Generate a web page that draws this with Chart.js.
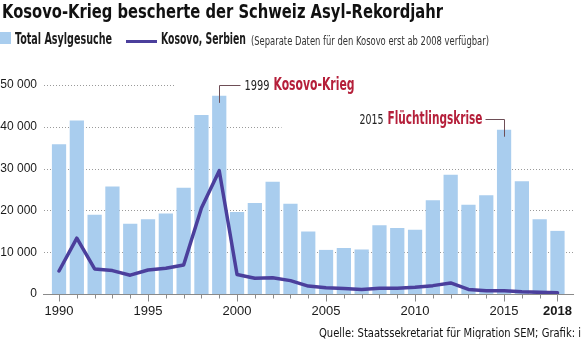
<!DOCTYPE html>
<html>
<head>
<meta charset="utf-8">
<script src="https://cdn.jsdelivr.net/npm/chart.js@4.4.0/dist/chart.umd.min.js"></script>
<style>
  html, body { margin:0; padding:0; background:#fff; }
  body { width:582px; height:339px; overflow:hidden; position:relative; }
  .t { position:absolute; white-space:nowrap; line-height:1; transform-origin:0 0; color:#1a1a1a; }
  #title { left:2px; top:0px; font: bold 19px "Liberation Sans Narrow", "Arial Narrow", "DejaVu Sans Condensed", sans-serif; color:#111; }
  .lg { font-family: "Liberation Sans Narrow", "Arial Narrow", "DejaVu Sans Condensed", sans-serif; }
  #sw1 { position:absolute; left:0; top:32px; width:11px; height:12px; background:#a9cdee; }
  #sw2 { position:absolute; left:126px; top:40px; width:31px; height:3px; background:#4b3f9c; }
  #l1 { left:15px; top:32px; font-weight:bold; font-size:15px; }
  #l2 { left:161px; top:32px; font-weight:bold; font-size:15px; }
  #l3 { left:251px; top:34px; font-size:13px; color:#333; }
  #src { left:319px; top:325px; font: 12.5px "Liberation Sans Narrow", "Arial Narrow", "DejaVu Sans Condensed", sans-serif; color:#111; }
  #wrap { position:absolute; left:0; top:0; width:582px; height:339px; }
</style>
</head>
<body>
<div id="wrap"><canvas id="c" width="582" height="339"></canvas></div>
<div id="title" class="t">Kosovo-Krieg bescherte der Schweiz Asyl-Rekordjahr</div>
<div id="sw1"></div>
<div id="l1" class="t lg">Total Asylgesuche</div>
<div id="sw2"></div>
<div id="l2" class="t lg">Kosovo, Serbien</div>
<div id="l3" class="t lg">(Separate Daten für den Kosovo erst ab 2008 verfügbar)</div>
<div id="src" class="t">Quelle: Staatssekretariat für Migration SEM; Grafik: i</div>
<script>
// ---- data ----
const years = [1990,1991,1992,1993,1994,1995,1996,1997,1998,1999,2000,2001,2002,2003,2004,2005,2006,2007,2008,2009,2010,2011,2012,2013,2014,2015,2016,2017,2018];
const totalAsyl = [35800,41500,18950,25700,16800,17900,19250,25400,42850,47400,19600,21750,26850,21600,14950,10550,11000,10650,16450,15800,15400,22400,28550,21350,23600,39300,26950,17900,15100];
const kosovoSerbien = [5500,13350,6000,5600,4500,5750,6150,6950,20550,29500,4650,3750,3900,3200,1900,1500,1300,1100,1350,1350,1600,2000,2650,1100,800,800,550,400,300];
const labelYears = [1990,1995,2000,2005,2010,2015,2018];
const yTicks = [0,10000,20000,30000,40000,50000];
const annotations = [
  { year: 1999, lead: '1999', name: 'Kosovo-Krieg', side: 'right', wLead: 25, wName: 81 },
  { year: 2015, lead: '2015', name: 'Flüchtlingskrise', side: 'left', wLead: 24, wName: 95 }
];

const NARROW = '"Liberation Sans Narrow", "Arial Narrow", "DejaVu Sans Condensed", sans-serif';
const TICKFONT = '"Liberation Sans", Arial, sans-serif';

// fit HTML text widths to the reference
function fit(id, w) {
  const el = document.getElementById(id);
  const r = el.getBoundingClientRect().width;
  el.style.transform = 'scaleX(' + (w / r) + ')';
}
fit('title', 441); fit('l1', 97); fit('l2', 85); fit('l3', 238); fit('src', 262);

function fittedText(ctx, text, x, y, font, targetW) {
  ctx.font = font;
  const w = ctx.measureText(text).width;
  ctx.save();
  ctx.translate(x, y);
  ctx.scale(targetW / w, 1);
  ctx.fillText(text, 0, 0);
  ctx.restore();
}

const gridPlugin = {
  id: 'grid',
  beforeDatasetsDraw(chart) {
    const { ctx, chartArea, scales: { x, y } } = chart;
    ctx.save();
    ctx.strokeStyle = '#9a9a9a';
    ctx.lineWidth = 1;
    ctx.setLineDash([1, 2]);
    yTicks.forEach(v => {
      if (v === 0) return;
      const py = Math.round(y.getPixelForValue(v)) + 0.5;
      let xe = chartArea.right;
      if (v === 50000) xe = x.getPixelForValue(1996.5);
      if (v === 40000) xe = x.getPixelForValue(2002.5);
      ctx.beginPath();
      ctx.moveTo(chartArea.left + 1, py);
      ctx.lineTo(xe, py);
      ctx.stroke();
    });
    ctx.restore();
  },
  afterDatasetsDraw(chart) {
    const { ctx, chartArea, scales: { x, y } } = chart;
    ctx.save();
    ctx.strokeStyle = '#8a8a8a';
    ctx.lineWidth = 1;
    const by = Math.round(y.getPixelForValue(0)) + 0.5;
    ctx.beginPath();
    ctx.moveTo(chartArea.left, by);
    ctx.lineTo(chartArea.right, by);
    years.forEach(yr => {
      const px = Math.round(x.getPixelForValue(yr)) + 0.5;
      const len = labelYears.includes(yr) ? 7 : 4;
      ctx.moveTo(px, by);
      ctx.lineTo(px, by + len);
    });
    ctx.stroke();

    // annotations
    annotations.forEach(a => {
      const i = years.indexOf(a.year);
      const bx = Math.round(x.getPixelForValue(a.year)) + 0.5;
      const top = y.getPixelForValue(totalAsyl[i]);
      const ly = Math.round(top - 11) + 0.5;
      ctx.strokeStyle = '#6e4e56';
      ctx.lineWidth = 1;
      ctx.setLineDash([]);
      ctx.beginPath();
      ctx.moveTo(bx, top + 7);
      ctx.lineTo(bx, ly);
      if (a.side === 'right') ctx.lineTo(bx + 21, ly); else ctx.lineTo(bx - 19, ly);
      ctx.stroke();
      ctx.textBaseline = 'middle';
      ctx.textAlign = 'left';
      const gap = 4;
      const sx = a.side === 'right' ? bx + 25 : bx - 22 - a.wName - gap - a.wLead;
      ctx.fillStyle = '#222';
      fittedText(ctx, a.lead, sx, ly + 0.5, '14px ' + NARROW, a.wLead);
      ctx.fillStyle = '#b51f3a';
      fittedText(ctx, a.name, sx + a.wLead + gap, ly + 0.5, 'bold 17px ' + NARROW, a.wName);
    });
    ctx.restore();
  }
};

new Chart(document.getElementById('c'), {
  type: 'bar',
  data: {
    datasets: [
      {
        type: 'line',
        label: 'Kosovo, Serbien',
        data: years.map((yr, i) => ({ x: yr, y: kosovoSerbien[i] })),
        borderColor: '#4b3f9c',
        borderWidth: 3.5,
        pointRadius: 0,
        tension: 0,
        borderJoinStyle: 'round',
        borderCapStyle: 'round',
        order: 0
      },
      {
        type: 'bar',
        label: 'Total Asylgesuche',
        data: years.map((yr, i) => ({ x: yr, y: totalAsyl[i] })),
        backgroundColor: '#a9cdee',
        barPercentage: 0.8,
        categoryPercentage: 1,
        order: 1
      }
    ]
  },
  options: {
    responsive: false,
    animation: false,
    layout: { padding: { top: 85, right: 2, left: 0, bottom: 0 } },
    plugins: { legend: { display: false }, tooltip: { enabled: false } },
    scales: {
      x: {
        type: 'linear',
        min: 1989.1,
        max: 2018.93,
        offset: false,
        grid: { display: false, drawTicks: false },
        border: { display: false },
        afterBuildTicks: s => { s.ticks = years.map(v => ({ value: v })); },
        ticks: {
          autoSkip: false,
          maxRotation: 0,
          padding: 10,
          color: '#1a1a1a',
          callback: v => labelYears.includes(v) ? String(v) : '',
          font: c => ({ family: TICKFONT, size: 13, weight: (c.tick && c.tick.value === 2018) ? 'bold' : 'normal' })
        },
        afterFit: s => { s.height = 45; }
      },
      y: {
        min: 0,
        max: 50000,
        afterBuildTicks: s => { s.ticks = yTicks.map(v => ({ value: v })); },
        grid: { display: false, drawTicks: false },
        border: { display: false },
        ticks: {
          padding: 6,
          color: '#1a1a1a',
          font: { family: TICKFONT, size: 12 },
          callback: v => v === 0 ? '0' : (v / 1000) + ' 000'
        },
        afterFit: s => { s.width = 43; }
      }
    }
  },
  plugins: [gridPlugin]
});
</script>
</body>
</html>
